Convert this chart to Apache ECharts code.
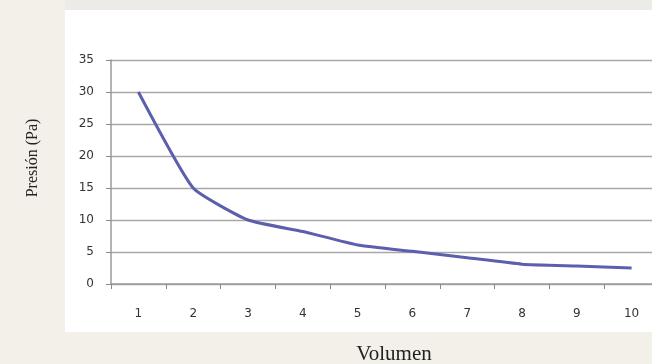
<!DOCTYPE html>
<html>
<head>
<meta charset="utf-8">
<script src="https://cdn.jsdelivr.net/npm/echarts@6/dist/echarts.min.js"></script>
<style>
  html, body { margin: 0; padding: 0; background: #f3f0e9; }
  #chart { width: 652px; height: 364px; }
</style>
</head>
<body>
<div id="chart"></div>
<script>
// Presión vs. Volumen (ley de Boyle)
const volumen = ['1', '2', '3', '4', '5', '6', '7', '8', '9', '10'];
const presion = [30, 15, 10, 8.2, 6.1, 5.1, 4.1, 3.1, 2.8, 2.5];
const yTicks = { min: 0, max: 35, interval: 5 };

const chart = echarts.init(document.getElementById('chart'));
chart.setOption({
  backgroundColor: '#f3f0e9',
  graphic: [
    { type: 'rect', z: -10, shape: { x: 65, y: 0, width: 587, height: 10 }, style: { fill: '#ecebe7' } },
    { type: 'rect', z: -10, shape: { x: 65, y: 10, width: 587, height: 322 }, style: { fill: '#ffffff' } }
  ],
  grid: { left: 111, top: 60, width: 548, height: 224, outerBoundsMode: 'none', containLabel: false },
  xAxis: {
    type: 'category',
    data: volumen,
    boundaryGap: true,
    name: 'Volumen',
    nameLocation: 'middle',
    nameGap: 60,
    nameTextStyle: { fontFamily: 'Liberation Serif', fontSize: 21, color: '#222', padding: [0, 0, 0, 18] },
    axisLine: { lineStyle: { color: '#9a9a9a', width: 1.5 } },
    axisTick: { show: true, length: 5, inside: false, lineStyle: { color: '#8a8a8a' } },
    axisLabel: { margin: 24, fontFamily: 'DejaVu Sans', fontSize: 12, color: '#333' },
    splitLine: { show: false }
  },
  yAxis: {
    type: 'value',
    min: yTicks.min,
    max: yTicks.max,
    interval: yTicks.interval,
    name: 'Presión (Pa)',
    nameLocation: 'middle',
    nameGap: 70,
    nameRotate: 90,
    nameTextStyle: { fontFamily: 'Liberation Serif', fontSize: 16, color: '#222', padding: [0, 0, 0, 28] },
    axisLine: { show: true, lineStyle: { color: '#9a9a9a', width: 1.5 } },
    axisTick: { show: true, length: 5, lineStyle: { color: '#8a8a8a' } },
    axisLabel: { margin: 17, fontFamily: 'DejaVu Sans', fontSize: 12, color: '#333' },
    splitLine: { lineStyle: { color: '#a8a8a8', width: 1.3 } }
  },
  series: [{
    type: 'line',
    data: presion,
    symbol: 'none',
    smooth: 0.15,
    lineStyle: { color: '#5c5fac', width: 3 }
  }],
  animation: false
});
</script>
</body>
</html>
